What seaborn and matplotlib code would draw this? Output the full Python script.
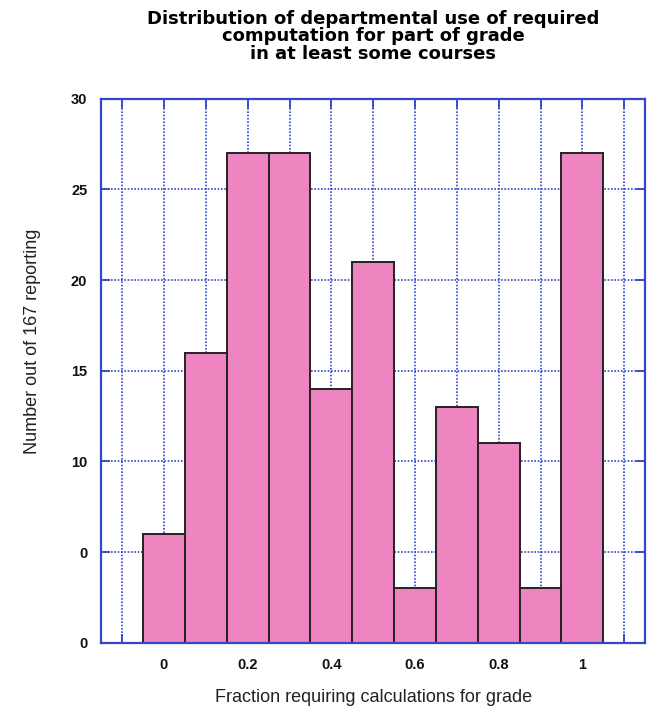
import numpy as np
import pandas as pd
import seaborn as sns
import matplotlib.pyplot as plt
from matplotlib.ticker import FixedLocator

# datos
fracciones = [0.0, 0.1, 0.2, 0.3, 0.4, 0.5, 0.6, 0.7, 0.8, 0.9, 1.0]
conteos = [6, 16, 27, 27, 14, 21, 3, 13, 11, 3, 27]
x_ticks = [-0.1, 0.0, 0.1, 0.2, 0.3, 0.4, 0.5, 0.6, 0.7, 0.8, 0.9, 1.0, 1.1]
x_labels = ['', '0', '', '0.2', '', '0.4', '', '0.6', '', '0.8', '', '1', '']
y_ticks = [0, 5, 10, 15, 20, 25, 30]
y_labels = ['0', '0', '10', '15', '20', '25', '30']

df = pd.DataFrame({'Fraccion': fracciones, 'Conteo': conteos})

sns.set_style('white')
plt.rcParams['font.family'] = ['Liberation Sans', 'DejaVu Sans']

azul = '#3346cc'
rosa = '#ee84c0'

fig = plt.figure(figsize=(6.49, 7.11), dpi=100)
ax = fig.add_axes([0.156, 0.096, 0.838, 0.765])

sns.barplot(data=df, x='Fraccion', y='Conteo', native_scale=True, width=1.0,
            color=rosa, saturation=1, edgecolor='#222222', linewidth=1.4,
            ax=ax, zorder=1)

ax.set_xlim(-0.15, 1.15)
ax.set_ylim(0, 30)

# grid punteado detras de las barras
for xv in x_ticks:
    ax.axvline(xv, color=azul, linestyle=(0, (1, 1)), linewidth=1.2, zorder=0.5)
for yv in y_ticks[1:-1]:
    ax.axhline(yv, color=azul, linestyle=(0, (1, 1)), linewidth=1.2, zorder=0.5)

ax.xaxis.set_major_locator(FixedLocator(x_ticks))
ax.set_xticklabels(x_labels)
ax.yaxis.set_major_locator(FixedLocator(y_ticks))
ax.set_yticklabels(y_labels)

ax.tick_params(axis='both', direction='in', length=6.5, width=1.3, color=azul,
               top=True, right=True, bottom=True, left=True, labelsize=10.5)
ax.tick_params(axis='x', pad=11)
ax.tick_params(axis='y', pad=10)
for lab in ax.get_xticklabels() + ax.get_yticklabels():
    lab.set_fontweight('bold')
    lab.set_color('#111111')

for sp in ax.spines.values():
    sp.set_color(azul)
    sp.set_linewidth(1.6)
    sp.set_visible(True)

ax.set_xlabel('Fraction requiring calculations for grade', fontsize=13,
              color='#222222', labelpad=12)
ax.set_ylabel('Number out of 167 reporting', fontsize=13, color='#222222')
ax.yaxis.set_label_coords(-0.11, 0.555)

fig.suptitle('Distribution of departmental use of required\n'
             'computation for part of grade\n'
             'in at least some courses',
             x=0.575, y=0.986, fontsize=13, fontweight='bold', linespacing=0.95,
             color='black', family=['DejaVu Sans'])

fig.savefig('out.png', dpi=100, facecolor='white')
